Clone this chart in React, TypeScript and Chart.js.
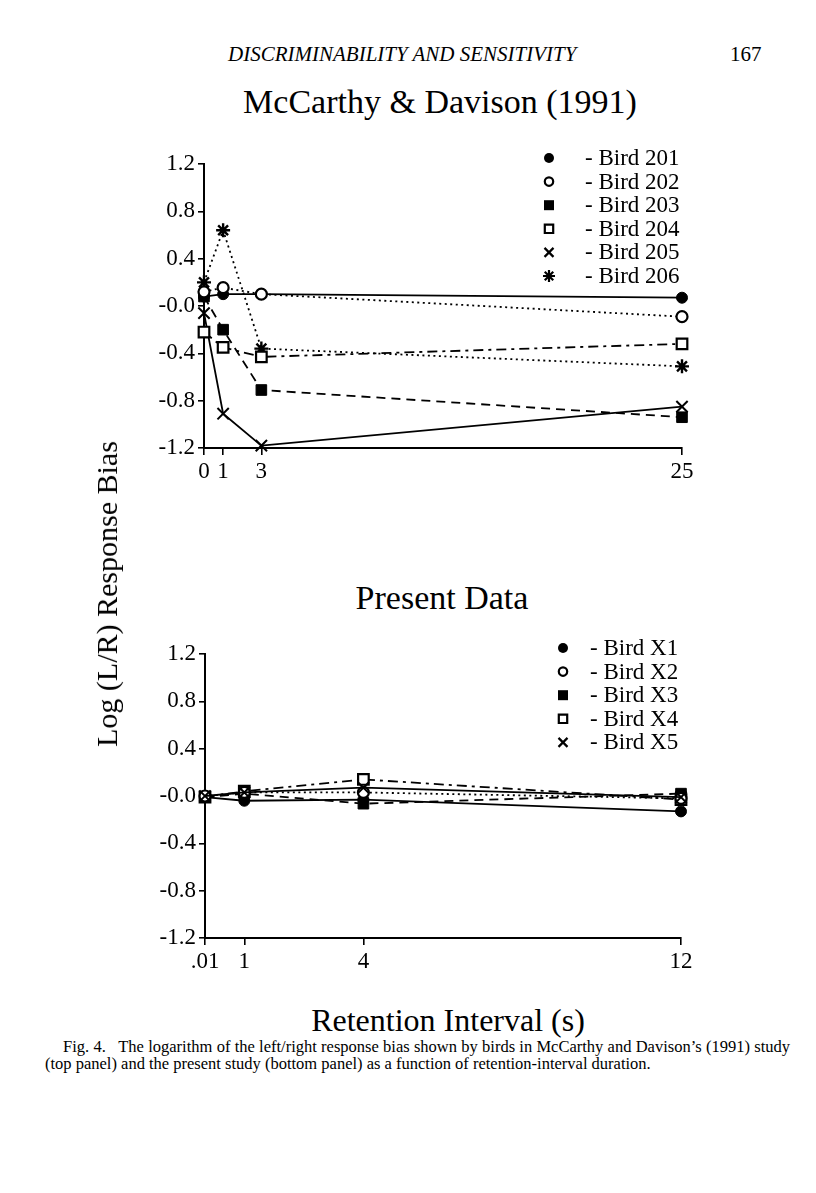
import React, { useEffect, useRef } from "react";
import { Chart, registerables } from "chart.js";

Chart.register(...registerables);

const FONT = "'Liberation Serif', 'Times New Roman', serif";

// ---------- Top panel: McCarthy & Davison (1991) ----------
const topX = [0, 1, 3, 25];
const topXTickLabels = ["0", "1", "3", "25"];
const bird201 = [0.08, 0.1, 0.1, 0.07];
const bird202 = [0.12, 0.155, 0.1, -0.09];
const bird203 = [0.08, -0.2, -0.71, -0.94];
const bird204 = [-0.22, -0.35, -0.43, -0.32];
const bird205 = [-0.06, -0.91, -1.18, -0.85];
const bird206 = [0.2, 0.64, -0.36, -0.51];
const topNames = ["Bird 201", "Bird 202", "Bird 203", "Bird 204", "Bird 205", "Bird 206"];

// ---------- Bottom panel: Present Data ----------
const botX = [0.01, 1, 4, 12];
const botXTickLabels = [".01", "1", "4", "12"];
const birdX1 = [-0.01, -0.04, -0.03, -0.13];
const birdX2 = [0.0, 0.03, 0.03, -0.02];
const birdX3 = [-0.01, 0.02, -0.065, 0.02];
const birdX4 = [-0.01, 0.04, 0.14, -0.03];
const birdX5 = [0.0, 0.03, 0.07, -0.01];
const botNames = ["Bird X1", "Bird X2", "Bird X3", "Bird X4", "Bird X5"];

const yTicks = [-1.2, -0.8, -0.4, 0, 0.4, 0.8, 1.2];
const yTickLabels = ["-1.2", "-0.8", "-0.4", "-0.0", "0.4", "0.8", "1.2"];

type Marker = "dot" | "ring" | "box" | "square" | "x" | "star";
type LineKind = "solid" | "dotted" | "dashed" | "dashdot";

const DASH: Record<LineKind, number[]> = {
  solid: [],
  dotted: [2, 3.5],
  dashed: [9, 6],
  dashdot: [10, 5, 3, 5],
};

function markerStyle(m: Marker) {
  switch (m) {
    case "dot":
      return { pointStyle: "circle", pointRadius: 5.5, pointBackgroundColor: "#000", pointBorderWidth: 1 };
    case "ring":
      return { pointStyle: "circle", pointRadius: 5.5, pointBackgroundColor: "#fff", pointBorderWidth: 2.2 };
    case "box":
      return { pointStyle: "rect", pointRadius: 7.5, pointBackgroundColor: "#000", pointBorderWidth: 1 };
    case "square":
      return { pointStyle: "rect", pointRadius: 7.5, pointBackgroundColor: "#fff", pointBorderWidth: 2.2 };
    case "x":
      return { pointStyle: "crossRot", pointRadius: 8, pointBackgroundColor: "#000", pointBorderWidth: 2 };
    case "star":
      return { pointStyle: "star", pointRadius: 7, pointBackgroundColor: "#000", pointBorderWidth: 2.4 };
  }
}

function makeDataset(label: string, xs: number[], ys: number[], m: Marker, line: LineKind, order: number) {
  return {
    label,
    order,
    data: xs.map((x, i) => ({ x, y: ys[i] })),
    borderColor: "#000",
    borderWidth: 1.8,
    borderDash: DASH[line],
    pointBorderColor: "#000",
    fill: false,
    tension: 0,
    clip: false as any,
    ...markerStyle(m),
  };
}

function drawLegendMarker(ctx: CanvasRenderingContext2D, m: Marker, x: number, y: number) {
  const r = 5;
  ctx.save();
  ctx.strokeStyle = "#000";
  ctx.fillStyle = "#000";
  ctx.lineWidth = 2.2;
  ctx.beginPath();
  if (m === "dot") {
    ctx.arc(x, y, r, 0, Math.PI * 2);
    ctx.fill();
  } else if (m === "ring") {
    ctx.arc(x, y, r - 0.8, 0, Math.PI * 2);
    ctx.stroke();
  } else if (m === "box") {
    ctx.rect(x - r, y - r, 2 * r, 2 * r);
    ctx.fill();
  } else if (m === "square") {
    ctx.rect(x - r + 0.8, y - r + 0.8, 2 * r - 1.6, 2 * r - 1.6);
    ctx.stroke();
  } else if (m === "x") {
    ctx.moveTo(x - r + 0.5, y - r + 0.5);
    ctx.lineTo(x + r - 0.5, y + r - 0.5);
    ctx.moveTo(x + r - 0.5, y - r + 0.5);
    ctx.lineTo(x - r + 0.5, y + r - 0.5);
    ctx.stroke();
  } else if (m === "star") {
    for (let k = 0; k < 4; k++) {
      const a = (k * Math.PI) / 4;
      ctx.moveTo(x - Math.cos(a) * (r + 1), y - Math.sin(a) * (r + 1));
      ctx.lineTo(x + Math.cos(a) * (r + 1), y + Math.sin(a) * (r + 1));
    }
    ctx.stroke();
  }
  ctx.restore();
}

interface PanelProps {
  xs: number[];
  xTickLabels: string[];
  xMin: number;
  xMax: number;
  series: number[][];
  names: string[];
  markers: Marker[];
  lines: LineKind[];
  orders: number[];
  yAxisWidth: number;
  padRight: number;
  legendMarkerX: number;
  legendTextX: number;
  legendTop: number;
  style: React.CSSProperties;
}

function Panel(p: PanelProps) {
  const ref = useRef<HTMLCanvasElement | null>(null);
  useEffect(() => {
    if (!ref.current) return;
    const legendPlugin = {
      id: "birdLegend",
      afterDraw(chart: any) {
        const ctx = chart.ctx as CanvasRenderingContext2D;
        ctx.save();
        ctx.font = `23px ${FONT}`;
        ctx.textBaseline = "middle";
        ctx.textAlign = "left";
        ctx.fillStyle = "#000";
        p.names.forEach((n, i) => {
          const y = p.legendTop + i * 23.6;
          drawLegendMarker(ctx, p.markers[i], p.legendMarkerX, y);
          ctx.fillText("- " + n, p.legendTextX, y + 1);
        });
        ctx.restore();
      },
    };
    const chart = new Chart(ref.current, {
      type: "line",
      data: {
        datasets: p.series.map((ys, i) =>
          makeDataset(p.names[i], p.xs, ys, p.markers[i], p.lines[i], p.orders[i])
        ) as any,
      },
      options: {
        animation: false,
        responsive: false,
        maintainAspectRatio: false,
        devicePixelRatio: 1,
        layout: { padding: { left: 0, right: p.padRight, top: 24, bottom: 0 } },
        plugins: { legend: { display: false }, tooltip: { enabled: false }, title: { display: false } },
        scales: {
          x: {
            type: "linear",
            min: p.xMin,
            max: p.xMax,
            afterBuildTicks: (s: any) => {
              s.ticks = p.xs.map((v) => ({ value: v }));
            },
            afterFit: (s: any) => {
              s.height = 42;
            },
            ticks: {
              autoSkip: false,
              maxRotation: 0,
              padding: 3,
              color: "#000",
              font: { family: FONT, size: 23 },
              callback: (_v: any, i: number) => p.xTickLabels[i],
            },
            grid: { drawOnChartArea: false, drawTicks: true, tickLength: 7, color: "#000", lineWidth: 1.6 },
            border: { display: true, color: "#000", width: 2 },
          },
          y: {
            type: "linear",
            min: -1.2,
            max: 1.2,
            afterBuildTicks: (s: any) => {
              s.ticks = yTicks.map((v) => ({ value: v }));
            },
            afterFit: (s: any) => {
              s.width = p.yAxisWidth;
            },
            ticks: {
              padding: 3,
              color: "#000",
              font: { family: FONT, size: 23 },
              callback: (_v: any, i: number) => yTickLabels[i],
            },
            grid: { drawOnChartArea: false, drawTicks: true, tickLength: 6, color: "#000", lineWidth: 1.6 },
            border: { display: true, color: "#000", width: 2 },
          },
        },
      } as any,
      plugins: [legendPlugin],
    });
    return () => chart.destroy();
  }, []);
  return (
    <canvas
      ref={ref}
      width={600}
      height={350}
      style={{ position: "absolute", width: 600, height: 350, ...p.style }}
    />
  );
}

const abs = (s: React.CSSProperties): React.CSSProperties => ({
  position: "absolute",
  margin: 0,
  whiteSpace: "nowrap",
  fontFamily: FONT,
  color: "#000",
  ...s,
});

export default function App() {
  return (
    <div style={{ position: "absolute", left: 0, top: 0, width: 816, height: 1193, background: "#fff", overflow: "hidden" }}>
      <div style={abs({ left: 228, top: 42, fontSize: 21, fontStyle: "italic", lineHeight: "24px" })}>
        DISCRIMINABILITY AND SENSITIVITY
      </div>
      <div style={abs({ left: 730, top: 42, fontSize: 21, lineHeight: "24px" })}>167</div>

      <div style={abs({ left: 0, width: 880, top: 82, fontSize: 34, lineHeight: "40px", textAlign: "center" })}>
        McCarthy &amp; Davison (1991)
      </div>

      <Panel
        xs={topX}
        xTickLabels={topXTickLabels}
        xMin={0}
        xMax={25}
        series={[bird201, bird202, bird203, bird204, bird205, bird206]}
        names={topNames}
        markers={["dot", "ring", "box", "square", "x", "star"]}
        lines={["solid", "dotted", "dashed", "dashdot", "solid", "dotted"]}
        orders={[1, 0, 2, 3, 4, 5]}
        yAxisWidth={104}
        padRight={18}
        legendMarkerX={449}
        legendTextX={485}
        legendTop={18}
        style={{ left: 100, top: 140 }}
      />

      <div style={abs({ left: 0, width: 884, top: 578, fontSize: 34, lineHeight: "40px", textAlign: "center" })}>
        Present Data
      </div>

      <Panel
        xs={botX}
        xTickLabels={botXTickLabels}
        xMin={0.01}
        xMax={12}
        series={[birdX1, birdX2, birdX3, birdX4, birdX5]}
        names={botNames}
        markers={["dot", "ring", "box", "square", "x"]}
        lines={["solid", "dotted", "dashed", "dashdot", "solid"]}
        orders={[3, 1, 2, 4, 0]}
        yAxisWidth={105}
        padRight={19}
        legendMarkerX={463}
        legendTextX={490}
        legendTop={18}
        style={{ left: 100, top: 630 }}
      />

      <div
        style={abs({
          left: 107,
          top: 594,
          fontSize: 30,
          lineHeight: "34px",
          transform: "translate(-50%, -50%) rotate(-90deg)",
        })}
      >
        Log (L/R) Response Bias
      </div>

      <div style={abs({ left: 0, width: 896, top: 1000, fontSize: 32, lineHeight: "40px", textAlign: "center" })}>
        Retention Interval (s)
      </div>

      <div
        style={abs({
          left: 63,
          width: 727,
          top: 1038,
          fontSize: 16.5,
          lineHeight: "17px",
          textAlign: "justify",
          textAlignLast: "justify",
        } as React.CSSProperties)}
      >
        Fig. 4.&nbsp;&nbsp; The logarithm of the left/right response bias shown by birds in McCarthy and Davison’s (1991) study
      </div>
      <div style={abs({ left: 45, top: 1055, fontSize: 16.5, lineHeight: "17px" })}>
        (top panel) and the present study (bottom panel) as a function of retention-interval duration.
      </div>
    </div>
  );
}
